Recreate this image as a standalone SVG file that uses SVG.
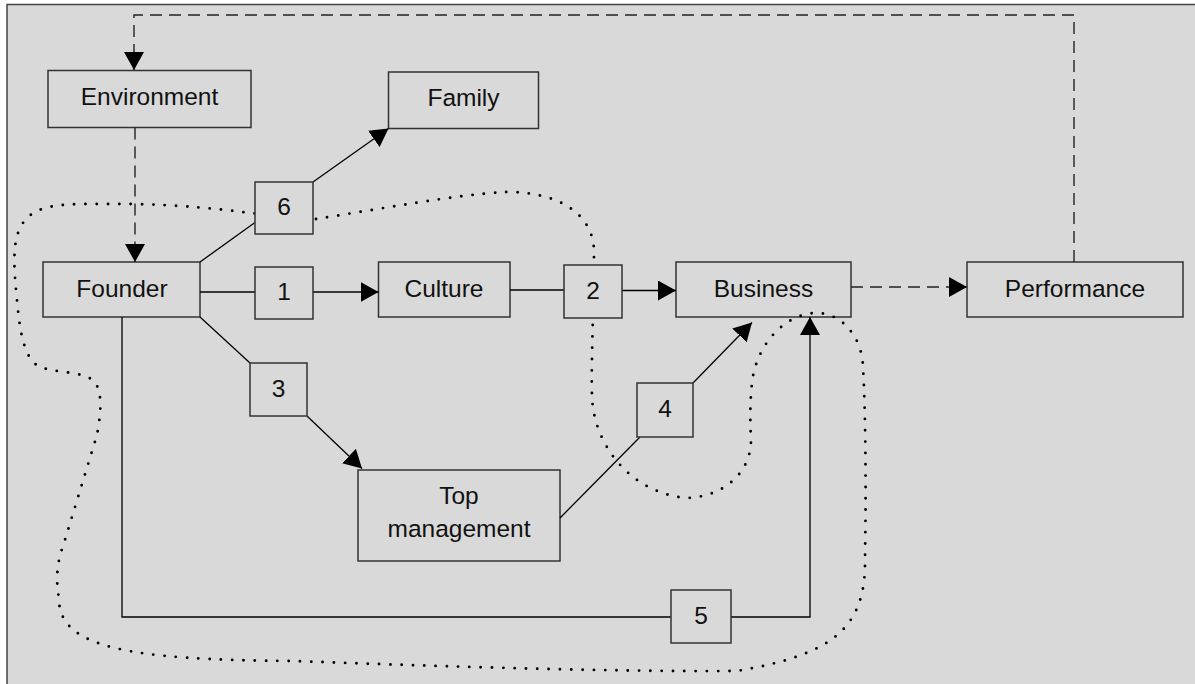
<svg xmlns="http://www.w3.org/2000/svg" width="1195" height="684" viewBox="0 0 1195 684">
  <defs>
    <marker id="arrow" markerUnits="userSpaceOnUse" markerWidth="18" markerHeight="20" viewBox="0 0 18 20" refX="18" refY="10" orient="auto">
      <path d="M0,0 L18,10 L0,20 z" fill="#000"/>
    </marker>
    <style>
      .box { fill: #d9d9d9; stroke: #333; stroke-width: 1.5; }
      .lbl { font-family: "Liberation Sans", Arial, Helvetica, sans-serif; font-size: 24.5px; fill: #111; text-anchor: middle; }
      .link { fill: none; stroke: #000; stroke-width: 1.3; }
      .dash { fill: none; stroke: #222; stroke-width: 1.4; stroke-dasharray: 12 7; }
      .loop { fill: none; stroke: #000; stroke-width: 2.9; stroke-linecap: round; stroke-dasharray: 0 11.3; }
    </style>
  </defs>

  <!-- page and frame -->
  <rect x="0" y="0" width="1195" height="684" fill="#fff"/>
  <rect x="7" y="4.5" width="1200" height="700" fill="#d9d9d9" stroke="#444" stroke-width="1.5"/>

  <!-- main boxes -->
  <g id="environment">
    <rect class="box" x="48" y="70.5" width="203" height="57"/>
    <text class="lbl" x="149.5" y="104.5">Environment</text>
  </g>
  <g id="family">
    <rect class="box" x="388.5" y="72" width="150" height="56.5"/>
    <text class="lbl" x="463.5" y="106">Family</text>
  </g>
  <g id="founder">
    <rect class="box" x="43" y="262" width="157" height="55"/>
    <text class="lbl" x="122" y="296.5">Founder</text>
  </g>
  <g id="culture">
    <rect class="box" x="378.5" y="262" width="131.5" height="55"/>
    <text class="lbl" x="444" y="296.5">Culture</text>
  </g>
  <g id="business">
    <rect class="box" x="676" y="262" width="175" height="55"/>
    <text class="lbl" x="763.5" y="296.5">Business</text>
  </g>
  <g id="performance">
    <rect class="box" x="967" y="262" width="216" height="55"/>
    <text class="lbl" x="1075" y="296.5">Performance</text>
  </g>
  <g id="top-management">
    <rect class="box" x="358" y="470" width="202" height="91"/>
    <text class="lbl" x="459" y="503.5">Top</text>
    <text class="lbl" x="459" y="536.5">management</text>
  </g>

  <!-- dotted boundary loop -->
  <g id="boundary">
    <path class="loop" d="M316,219 C380,209 460,194 507,192 C560,192 594,215 594,252 C594,300 591,360 592,397 C594,445 630,492 685,498 C720,498 751,475 751,440 C750,420 750,400 752,383 C756,345 785,313 817,313 C840,313 862,335 863,367 C866,420 866,500 865,560 C866,630 830,655 737,671 C600,672 400,665 294,661 C130,660 59,648 59,599 C55,575 58,560 64,543 L97,435 C100,418 104,393 94,381 C82,371 55,373 40,367 C25,360 20,335 17,300 C14,270 12,245 20,228 C30,208 50,205 80,204 L135,204 C180,205 220,209 250,213 Z"/>
  </g>

  <!-- connectors -->
  <g id="connectors">
    <!-- feedback from performance to environment -->
    <path class="dash" d="M1074,262 L1074,15 L134,15 L134,70" marker-end="url(#arrow)"/>
    <path class="dash" d="M135,127.5 L135,262" marker-end="url(#arrow)"/>
    <path class="dash" d="M851,287 L967,287" marker-end="url(#arrow)"/>
    <!-- path 6 -->
    <path class="link" d="M200,262 L255,222.5"/>
    <path class="link" d="M313,182 L388.5,128.5" marker-end="url(#arrow)"/>
    <!-- path 1 -->
    <path class="link" d="M200,292 L255,292"/>
    <path class="link" d="M313,292 L378.5,292" marker-end="url(#arrow)"/>
    <!-- path 2 -->
    <path class="link" d="M510,290 L564,290"/>
    <path class="link" d="M622,290.5 L676,290.5" marker-end="url(#arrow)"/>
    <!-- path 3 -->
    <path class="link" d="M200,317 L250,363"/>
    <path class="link" d="M307,416 L362,468.5" marker-end="url(#arrow)"/>
    <!-- path 4 -->
    <path class="link" d="M560,518 L640,437"/>
    <path class="link" d="M693,383 L752,322.5" marker-end="url(#arrow)"/>
    <!-- path 5 -->
    <path class="link" d="M122,317 L122,617 L671,617"/>
    <path class="link" d="M731,617 L810,617 L810,317" marker-end="url(#arrow)"/>
  </g>

  <!-- numbered path boxes -->
  <g id="n6">
    <rect class="box" x="255" y="182" width="58" height="52"/>
    <text class="lbl" x="284" y="215">6</text>
  </g>
  <g id="n1">
    <rect class="box" x="255" y="267" width="58" height="52"/>
    <text class="lbl" x="284" y="300">1</text>
  </g>
  <g id="n2">
    <rect class="box" x="564" y="265" width="58" height="53"/>
    <text class="lbl" x="593" y="299">2</text>
  </g>
  <g id="n3">
    <rect class="box" x="250" y="363" width="57" height="53"/>
    <text class="lbl" x="278.5" y="396.5">3</text>
  </g>
  <g id="n4">
    <rect class="box" x="637" y="383" width="56" height="54"/>
    <text class="lbl" x="665" y="417">4</text>
  </g>
  <g id="n5">
    <rect class="box" x="671" y="590" width="60" height="53"/>
    <text class="lbl" x="701" y="624">5</text>
  </g>
</svg>
